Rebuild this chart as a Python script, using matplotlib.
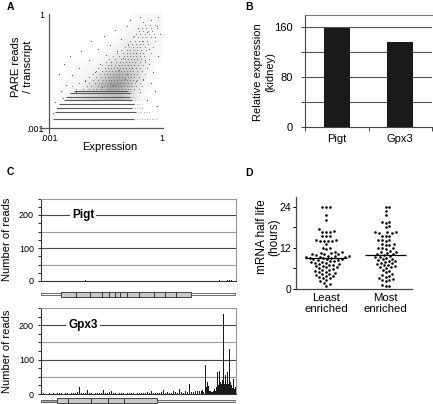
import numpy as np
import matplotlib
matplotlib.use("Agg")
import matplotlib.pyplot as plt
from matplotlib.patches import Rectangle

plt.rcParams['font.family'] = ['Liberation Sans', 'DejaVu Sans']

W, H = 433, 404

# ---- panel A : PARE reads vs expression (log10 units) ----
a_ticks = [-3, 0]
a_ticklabels = ['.001', '1']
# haze of the main cloud, rows top (y=0) to bottom (y=-2.25), cols x=-3..0
cloud_density = np.array([
    [0, 0, 0, 0, 0, 0, 0, 0, 0, 1, 1, 1],
    [0, 0, 0, 0, 0, 0, 0, 0, 1, 2, 2, 1],
    [0, 0, 0, 0, 0, 0, 0, 1, 2, 2, 2, 1],
    [0, 0, 0, 0, 0, 0, 1, 2, 3, 3, 2, 1],
    [0, 0, 0, 0, 0, 1, 2, 3, 4, 4, 2, 1],
    [0, 0, 0, 1, 1, 2, 4, 5, 5, 4, 2, 0],
    [0, 0, 1, 1, 2, 4, 6, 7, 6, 4, 1, 0],
    [0, 1, 1, 2, 4, 6, 8, 8, 6, 3, 1, 0],
    [0, 1, 2, 3, 4, 5, 6, 6, 4, 2, 0, 0],
])
# speckles of the cloud, one row of x values per y level
cloud_rows = {
    -1.95: [-2.3, -2.1, -1.95, -1.85, -1.75, -1.65, -1.6, -1.5, -1.45, -1.38, -1.3,
            -1.22, -1.15, -1.08, -1.0, -0.92, -0.85, -0.75, -0.62],
    -1.88: [-2.4, -2.0, -1.9, -1.72, -1.62, -1.55, -1.48, -1.4, -1.33, -1.26, -1.18,
            -1.1, -1.03, -0.95, -0.88, -0.8, -0.7, -0.55],
    -1.80: [-2.2, -1.95, -1.8, -1.68, -1.6, -1.52, -1.44, -1.36, -1.28, -1.2, -1.12,
            -1.05, -0.98, -0.9, -0.82, -0.72, -0.6],
    -1.72: [-2.05, -1.85, -1.7, -1.58, -1.5, -1.42, -1.35, -1.27, -1.19, -1.1, -1.02,
            -0.94, -0.86, -0.78, -0.68, -0.5],
    -1.64: [-1.95, -1.75, -1.62, -1.53, -1.45, -1.38, -1.3, -1.22, -1.14, -1.06, -0.98,
            -0.9, -0.82, -0.74, -0.62],
    -1.56: [-1.85, -1.66, -1.55, -1.47, -1.4, -1.32, -1.24, -1.16, -1.08, -1.0, -0.92,
            -0.84, -0.76, -0.66, -0.45],
    -1.48: [-1.75, -1.6, -1.5, -1.42, -1.34, -1.26, -1.18, -1.1, -1.02, -0.94, -0.86,
            -0.78, -0.68, -0.55],
    -1.40: [-1.7, -1.52, -1.44, -1.36, -1.28, -1.2, -1.12, -1.04, -0.96, -0.88, -0.8,
            -0.7, -0.58, -0.4],
    -1.32: [-1.6, -1.45, -1.35, -1.25, -1.15, -1.07, -0.99, -0.91, -0.83, -0.74, -0.64, -0.5],
    -1.24: [-1.5, -1.35, -1.22, -1.12, -1.04, -0.96, -0.88, -0.8, -0.72, -0.6, -0.45],
    -1.16: [-1.42, -1.25, -1.1, -1.0, -0.92, -0.84, -0.76, -0.68, -0.56, -0.35],
    -1.08: [-1.3, -1.15, -1.02, -0.94, -0.86, -0.78, -0.7, -0.6, -0.48],
    -1.00: [-1.2, -1.05, -0.95, -0.85, -0.77, -0.69, -0.6, -0.5, -0.3],
    -0.92: [-1.1, -0.95, -0.85, -0.75, -0.66, -0.56, -0.42],
    -0.84: [-1.0, -0.88, -0.78, -0.68, -0.58, -0.45, -0.25],
    -0.76: [-0.92, -0.8, -0.7, -0.6, -0.5, -0.38],
    -0.68: [-0.85, -0.72, -0.62, -0.52, -0.4, -0.2],
    -0.60: [-0.78, -0.65, -0.55, -0.44, -0.3],
    -0.52: [-0.7, -0.58, -0.46, -0.34, -0.22],
    -0.44: [-0.62, -0.5, -0.38, -0.26],
    -0.36: [-0.55, -0.42, -0.3, -0.15],
    -0.28: [-0.45, -0.32, -0.2],
}
stripe_y = [-2.745, -2.571, -2.455, -2.35, -2.245, -2.16, -2.07, -2.0]
stripe_x0 = [-2.9, -2.85, -2.8, -2.75, -2.6, -2.55, -2.45, -2.35]
stripe_x1 = [-0.75, -0.7, -0.8, -0.75, -0.8, -0.85, -0.85, -0.9]
stripe_tail = [-0.1, -0.3, -0.5, -0.55, -0.6, -0.7, -0.75, -0.8]
outlier_x = [-2.85, -2.75, -2.7, -2.6, -2.55, -2.45, -2.4, -2.3, -2.2, -2.15,
             -2.05, -1.95, -1.9, -1.8, -1.7, -1.65, -1.55, -1.5, -1.4, -1.35,
             -1.25, -1.2, -1.1, -1.05, -0.95, -0.9, -0.85, -0.75, -0.7, -0.65,
             -0.6, -0.55, -0.5, -0.45, -0.4, -0.35, -0.3, -0.25, -0.2, -0.15,
             -0.1, -0.1, -0.05, -0.3, -0.2, -0.5, -0.15, -0.4, -0.6, -2.9,
             -2.8, -2.65, -1.0, -1.3, -0.8, -1.6, -0.95, -0.7, -1.15, -0.35]
outlier_y = [-2.3, -1.55, -2.0, -1.3, -1.85, -1.1, -1.6, -2.05, -1.4, -0.95,
             -1.75, -1.2, -0.7, -1.5, -0.9, -1.3, -0.55, -1.05, -0.8, -1.25,
             -0.4, -0.95, -0.65, -1.15, -0.3, -0.8, -0.15, -0.55, -1.0, -0.35,
             -0.05, -0.7, -0.2, -1.2, -0.45, -0.9, -0.15, -1.5, -0.6, -0.3,
             -0.05, -1.1, -0.5, -1.8, -2.0, -1.7, -2.4, -2.25, -2.05, -2.6,
             -2.45, -2.2, -1.7, -1.85, -1.4, -1.9, -1.55, -1.75, -1.45, -1.3]

# ---- panel B : relative expression ----
b_genes = ['Pigt', 'Gpx3']
b_values = [159, 137]
b_yticks = [0, 80, 160]

# ---- panel C : PARE reads along transcripts ----
bg_pos = list(range(0, 160, 2))
gpx3_bg = [1, 2, 1, 1, 3, 1, 2, 1, 3, 2,
           2, 1, 3, 2, 1, 4, 2, 3, 5, 20,
           4, 2, 3, 12, 3, 2, 1, 4, 2, 3,
           2, 12, 3, 2, 5, 8, 3, 2, 1, 2,
           3, 2, 1, 4, 2, 3, 2, 1, 3, 2,
           4, 2, 3, 5, 2, 10, 3, 2, 4, 3,
           5, 12, 3, 6, 4, 3, 8, 5, 4, 15,
           6, 4, 8, 5, 30, 6, 7, 9, 10, 8]
gpx3_pos = [160, 161, 162, 164, 165, 166, 167, 168, 169, 170, 171, 172, 173,
            174, 175, 176, 177, 178, 179, 180, 181, 182, 183, 184, 185, 186,
            187, 188, 189, 190, 191, 192, 193, 194]
gpx3_reads = [8, 12, 6, 85, 20, 35, 22, 10, 8, 6, 5, 10, 15,
              8, 20, 65, 25, 67, 35, 30, 40, 232, 28, 55, 30, 65,
              30, 132, 35, 25, 18, 44, 15, 20]
pigt_pos = list(range(0, 196, 2))
pigt_reads = [0, 1, 0, 1, 1, 0, 1, 0, 1, 1, 0, 1, 0, 1, 1, 0, 1, 0, 1, 1,
              1, 1, 3, 1, 0, 1, 1, 0, 1, 0, 1, 1, 0, 1, 0, 1, 1, 0, 1, 0,
              1, 0, 1, 1, 0, 1, 0, 1, 1, 0, 1, 0, 1, 1, 0, 1, 0, 1, 1, 0,
              1, 0, 1, 0, 1, 1, 0, 1, 0, 1, 0, 1, 1, 0, 1, 0, 1, 1, 0, 1,
              0, 1, 0, 1, 1, 0, 1, 0, 1, 2, 1, 0, 1, 3, 4, 2, 1, 0]
c_yticks = [0, 100, 200]
# gene models: (utr start, cds start, cds end, utr end) and exon borders
pigt_model = (0, 20, 150, 194)
pigt_exons = [35, 49, 60.7, 68.3, 74, 79.3, 86, 97.7, 113.3, 124.3, 135]
gpx3_model = (0, 16, 115.7, 195)
gpx3_exons = [27.3, 50, 67.3, 83.3]

# ---- panel D : mRNA half life ----
d_groups = ['Least\nenriched', 'Most\nenriched']
least_hl = [24, 24, 24, 21.5, 20, 17.5, 16.8, 16.7, 16.6, 16.5, 15.5, 15.4, 15.3,
            14.2, 14.1, 14, 14, 14, 13.9, 13, 12, 11.8, 11.5,
            10.8, 10.6, 10.5, 10.3, 10.2, 10, 10, 9.8, 9.7, 9.6, 9.5, 9.4, 9.3,
            9.2, 9.1, 9, 9,
            8.8, 8.7, 8.6, 8.5, 8.3, 8.2, 8, 7.9, 7.8, 7.6, 7.5, 7.3, 7.2, 7,
            6.9, 6.7, 6.5, 6.4, 6.2, 6, 5.8, 5.6, 5.4, 5.2, 5, 4.8, 4.6, 4.4,
            4.2, 4, 3.8, 3.6, 3.4, 3.2, 3, 2.6, 2.2, 1.8, 1.4, 0.9]
most_hl = [24, 24, 22.8, 21.5, 19.5, 19.4, 19.3, 18.2, 18.1, 16.6, 16.5, 16.5,
           16.4, 16.4, 15.5, 15.5, 15.4, 14.2, 14.2, 14.1, 14, 13, 13, 12.9,
           12.8, 12, 11.9, 11.8, 11.5, 11, 10.8, 10.6, 10.4, 10.2, 10.1,
           9.8, 9.6, 9.4, 9.2, 9, 8.8, 8.6, 8.4, 8.2, 8, 7.8, 7.6, 7.4, 7.2,
           7, 6.8, 6.6, 6.4, 6.2, 6, 5.6, 5.2, 4.8, 4.4, 4, 3.6, 3.4, 3.2,
           2.8, 2.6, 2.4, 2.2, 1, 0.8, 0.8]
d_yticks = [0, 12, 24]


def rect(x0, y0, x1, y1):
    return [x0 / W, 1 - y1 / H, (x1 - x0) / W, (y1 - y0) / H]


def swarm(vals, px_per_unit, d):
    # simple beeswarm layout in pixel space
    placed = []
    offs = np.zeros(len(vals))
    for i in np.argsort(vals):
        y = vals[i] * px_per_unit
        cands = [0.0]
        for px, py in placed:
            dy = y - py
            if abs(dy) < d:
                dx = np.sqrt(d * d - dy * dy)
                cands += [px + dx, px - dx]
        cands.sort(key=abs)
        for c in cands:
            if all((c - px) ** 2 + (y - py) ** 2 >= d * d - 1e-6 for px, py in placed):
                offs[i] = c
                placed.append((c, y))
                break
    return offs


fig = plt.figure(figsize=(W / 100, H / 100), dpi=100)

# ========== A ==========
ax = fig.add_axes(rect(40, 14, 163, 133))
ax.imshow(cloud_density, extent=(-3, 0, -2.25, 0), origin='upper', cmap='Greys',
          vmin=0, vmax=17, interpolation='bilinear', aspect='auto', zorder=1)
cx = [x for yv, xs in cloud_rows.items() for x in xs]
cy = [yv for yv, xs in cloud_rows.items() for x in xs]
ax.scatter(cx, cy, s=0.7, color='#7a7a7a', lw=0, zorder=2)
ax.hlines(stripe_y, stripe_x0, stripe_x1, color='#5a5a5a', lw=0.8, zorder=2)
ax.hlines(stripe_y, stripe_x1, stripe_tail, color='#999999', lw=0.6,
          linestyles=(0, (1, 2)), zorder=2)
ax.scatter(outlier_x, outlier_y, s=0.7, color='#555555', lw=0, zorder=3)
ax.set_xlim(-3.25, 0.02)
ax.set_ylim(-3.12, 0.02)
for s in ['top', 'right']:
    ax.spines[s].set_visible(False)
for s in ['left', 'bottom']:
    ax.spines[s].set_position(('data', -3))
    ax.spines[s].set_color('#555555')
    ax.spines[s].set_linewidth(0.9)
ax.set_xticks(a_ticks, a_ticklabels)
ax.set_yticks(a_ticks, a_ticklabels)
ax.tick_params(length=0, labelsize=6.5, pad=4)
fig.text(110 / W, 1 - 146.7 / H, 'Expression', ha='center', va='center', fontsize=8)
fig.text(22 / W, 1 - 66.5 / H, 'PARE reads\n/ transcript', ha='center', va='center',
         rotation=90, fontsize=8, linespacing=1.15)

# ========== B ==========
ax = fig.add_axes(rect(305, 15, 432, 127))
ax.bar(range(len(b_genes)), b_values, width=0.41, color='#1a1a1a', zorder=3)
ax.set_xlim(-0.5, 1.5)
ax.set_ylim(0, 180)
for g in [40, 80, 120, 160]:
    ax.axhline(g, color='#555555', lw=0.8, zorder=1)
ax.spines['right'].set_visible(False)
ax.spines['top'].set_color('#777777')
for s in ['left', 'bottom', 'top']:
    ax.spines[s].set_linewidth(0.8)
ax.spines['left'].set_color('#444444')
ax.spines['bottom'].set_color('#444444')
ax.set_yticks(b_yticks)
ax.set_yticks([40, 120], minor=True)
ax.set_xticks(range(len(b_genes)), b_genes)
ax.set_xticks([-0.5, 0.5, 1.5], minor=True)
ax.tick_params(axis='y', which='both', length=3, width=0.7, color='#444444',
               labelsize=8, pad=6)
ax.tick_params(axis='x', which='major', length=0, labelsize=8, pad=5)
ax.tick_params(axis='x', which='minor', length=3, width=0.7, color='#444444')
fig.text(264.2 / W, 1 - 71.7 / H, 'Relative expression\n(kidney)', ha='center',
         va='center', rotation=90, fontsize=8, linespacing=1.35)

# ========== C ==========
c_panels = [
    (198.5, 281, 'Pigt', [pigt_pos], [pigt_reads], pigt_model, pigt_exons,
     289.5, 299, ('white', 'white')),
    (308, 394, 'Gpx3', [bg_pos, gpx3_pos], [gpx3_bg, gpx3_reads], gpx3_model,
     gpx3_exons, 396, 405, ('#a8a8a8', '#e4e4e4')),
]
for top, bot, name, poss, reads, model, exons, gy0, gy1, utr_cols in c_panels:
    ax = fig.add_axes(rect(41, top, 236, bot))
    for p, r in zip(poss, reads):
        ax.bar(p, r, width=1.0, color='#1a1a1a', lw=0, zorder=3)
    for g, col in [(50, '#9a9a9a'), (100, '#444444'), (150, '#9a9a9a'), (200, '#444444')]:
        ax.axhline(g, color=col, lw=0.8, zorder=1)
    ax.text(42, 200, name, fontsize=8.5, fontweight='bold', ha='center', va='center',
            zorder=4, bbox=dict(facecolor='white', edgecolor='none', pad=1.5))
    ax.set_xlim(0, 195)
    ax.set_ylim(0, 250)
    for s in ['top', 'right']:
        ax.spines[s].set_color('#999999')
    for s in ['left', 'bottom']:
        ax.spines[s].set_color('#333333')
    for s in ax.spines.values():
        s.set_linewidth(0.8)
    ax.set_xticks([])
    ax.set_yticks(c_yticks)
    ax.set_yticks(np.arange(0, 251, 25), minor=True)
    ax.tick_params(axis='y', which='both', length=2, width=0.6, labelsize=6.5, pad=3)
    ax.set_ylabel('Number of reads', fontsize=8, labelpad=2)
    ax.yaxis.set_label_coords(-29 / 195, 0.5)

    # gene model below
    gx = fig.add_axes(rect(41, gy0, 236, gy1))
    gx.set_xlim(0, 195)
    gx.set_ylim(-4.5, 4.5)
    gx.axis('off')
    u0, c0, c1, u1 = model
    gx.add_patch(Rectangle((u0, -1), c0 - u0, 2, facecolor=utr_cols[0],
                           edgecolor='#555555', lw=0.6))
    gx.add_patch(Rectangle((c1, -1), u1 - c1, 2, facecolor=utr_cols[1],
                           edgecolor='#555555', lw=0.6))
    gx.add_patch(Rectangle((c0, -2.5), c1 - c0, 5, facecolor='#c8c8c8',
                           edgecolor='#444444', lw=0.7))
    gx.vlines(exons, -2.5, 2.5, color='#333333', lw=0.7)

# ========== D ==========
ax = fig.add_axes(rect(295.7, 196.7, 412.3, 288.7))
ppu_y = (288.7 - 206.7) / 24
ppu_x = 59.5
for i, vals in enumerate([least_hl, most_hl]):
    vals = np.array(vals)
    offs = swarm(vals, ppu_y, 3.9) / ppu_x
    ax.scatter(i + offs, vals, s=3.5, color='black', lw=0, zorder=3, clip_on=False)
    m = np.median(vals)
    ax.hlines(m, i - 0.35, i + 0.35, color='black', lw=0.9, zorder=4)
ax.set_xlim(-0.51, 1.45)
ax.set_ylim(0, 26.9)
for s in ['top', 'right']:
    ax.spines[s].set_visible(False)
for s in ['left', 'bottom']:
    ax.spines[s].set_color('#444444')
    ax.spines[s].set_linewidth(0.9)
ax.set_yticks(d_yticks)
ax.set_yticks([6, 18], minor=True)
ax.set_xticks(range(len(d_groups)), d_groups)
ax.tick_params(axis='y', which='both', length=2.5, width=0.7, labelsize=7.5, pad=0.8)
ax.tick_params(axis='x', length=0, labelsize=8.2, pad=3)
for lab in ax.get_xticklabels():
    lab.set_linespacing(1.1)
fig.text(268.3 / W, 1 - 236.7 / H, 'mRNA half life\n(hours)', ha='center',
         va='center', rotation=90, fontsize=8.5, linespacing=1.05)

# panel letters
for letter, x, y in [('A', 10, 7.5), ('B', 249.3, 7.5), ('C', 10, 172), ('D', 249.3, 173)]:
    fig.text(x / W, 1 - y / H, letter, fontsize=7.5, fontweight='bold',
             ha='center', va='center')

fig.savefig('out.png', dpi=100)
